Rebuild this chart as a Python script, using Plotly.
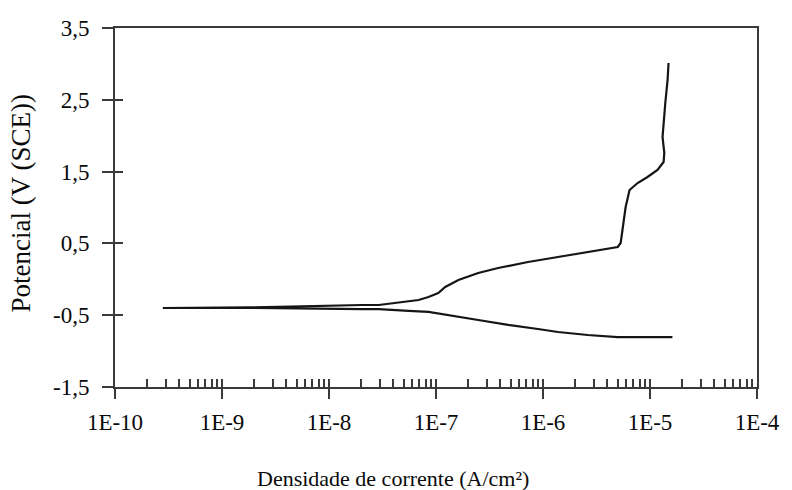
import plotly.graph_objects as go

# Polarization curve: cathodic branch (high -> low current) then anodic branch (low -> high)
current = [1.62e-5, 7.66e-6, 4.99e-6, 2.62e-6, 1.38e-6, 8.97e-7, 4.72e-7, 2.48e-7, 1.31e-7,
           8.51e-8, 5.55e-8, 2.92e-8, 2.03e-8, 1.8e-9, 2.8e-10,
           1.8e-9, 2.03e-8, 2.92e-8, 6.87e-8, 8.51e-8, 1.05e-7, 1.22e-7, 1.62e-7, 2.48e-7,
           3.81e-7, 7.24e-7, 1.38e-6, 2.62e-6, 4.03e-6, 4.99e-6, 5.32e-6, 5.43e-6, 5.66e-6,
           5.92e-6, 6.44e-6, 7.66e-6, 9.48e-6, 1.175e-5, 1.34e-5, 1.36e-5, 1.31e-5, 1.34e-5,
           1.39e-5, 1.46e-5, 1.49e-5]
potential = [-0.804, -0.804, -0.804, -0.776, -0.734, -0.692, -0.636, -0.567, -0.497,
             -0.455, -0.441, -0.414, -0.414, -0.398, -0.400,
             -0.392, -0.358, -0.358, -0.288, -0.247, -0.191, -0.107, -0.010, 0.088,
             0.157, 0.241, 0.311, 0.380, 0.436, 0.450, 0.506, 0.603, 0.826,
             1.007, 1.244, 1.341, 1.425, 1.522, 1.634, 1.759, 1.982, 2.219,
             2.455, 2.776, 3.013]

x_tickvals = [1e-10, 1e-9, 1e-8, 1e-7, 1e-6, 1e-5, 1e-4]
x_ticktext = ["1E-10", "1E-9", "1E-8", "1E-7", "1E-6", "1E-5", "1E-4"]
y_tickvals = [-1.5, -0.5, 0.5, 1.5, 2.5, 3.5]
y_ticktext = ["-1,5", "-0,5", "0,5", "1,5", "2,5", "3,5"]
minor_mult = [1, 2, 3, 4, 5, 6, 7, 8, 9]
x_title = "Densidade de corrente (A/cm²)"
y_title = "Potencial (V (SCE))"

x_inner_ticks = [m * d for d in x_tickvals[:-1] for m in minor_mult] + [x_tickvals[-1]]

FONT = "Liberation Serif"
AX = "#3a3a3a"
TXT = "#0a0a0a"

fig = go.Figure()
fig.add_trace(go.Scatter(x=current, y=potential, mode="lines",
                         line=dict(color="#151515", width=2.2), showlegend=False,
                         hoverinfo="skip"))
# companion trace so that the overlay axes (inner tick marks) are drawn
fig.add_trace(go.Scatter(x=current, y=potential, mode="lines", xaxis="x2", yaxis="y2",
                         line=dict(color="rgba(0,0,0,0)", width=0), showlegend=False,
                         hoverinfo="skip"))

fig.update_layout(
    width=792, height=490,
    margin=dict(l=115, r=32, t=28, b=103),
    paper_bgcolor="white", plot_bgcolor="white",
    font=dict(family=FONT, size=23, color=TXT),
    xaxis=dict(type="log", range=[-10, -4], tickvals=x_tickvals, ticktext=x_ticktext,
               ticks="outside", ticklen=10, tickwidth=1.5, tickcolor=AX,
               showline=True, linecolor=AX, linewidth=2, mirror=True,
               showgrid=False, zeroline=False, ticklabelstandoff=3,
               tickfont=dict(family=FONT, size=23, color=TXT)),
    yaxis=dict(range=[-1.5, 3.5], tickvals=y_tickvals, ticktext=y_ticktext,
               ticks="outside", ticklen=11, tickwidth=1.5, tickcolor=AX,
               showline=True, linecolor=AX, linewidth=2, mirror=True,
               showgrid=False, zeroline=False, ticklabelstandoff=8,
               tickfont=dict(family=FONT, size=23, color=TXT)),
    xaxis2=dict(type="log", range=[-10, -4], overlaying="x", anchor="y", side="bottom",
                tickvals=x_inner_ticks, ticks="inside", ticklen=8, tickwidth=1.5,
                tickcolor=AX, showticklabels=False, showline=False, showgrid=False,
                zeroline=False),
    yaxis2=dict(range=[-1.5, 3.5], overlaying="y", anchor="x", side="left",
                tickvals=y_tickvals, ticks="inside", ticklen=8, tickwidth=1.5,
                tickcolor=AX, showticklabels=False, showline=False, showgrid=False,
                zeroline=False),
    annotations=[
        dict(text=x_title, xref="paper", yref="paper",
             x=(394 - 115) / 645, y=(387 - 478) / 359,
             xanchor="center", yanchor="middle", showarrow=False,
             font=dict(family=FONT, size=22, color=TXT)),
        dict(text=y_title, xref="paper", yref="paper", textangle=-90,
             x=(21 - 115) / 645, y=(387 - 203) / 359,
             xanchor="center", yanchor="middle", showarrow=False,
             font=dict(family=FONT, size=27, color=TXT)),
    ],
)

fig.write_html("out.html")
